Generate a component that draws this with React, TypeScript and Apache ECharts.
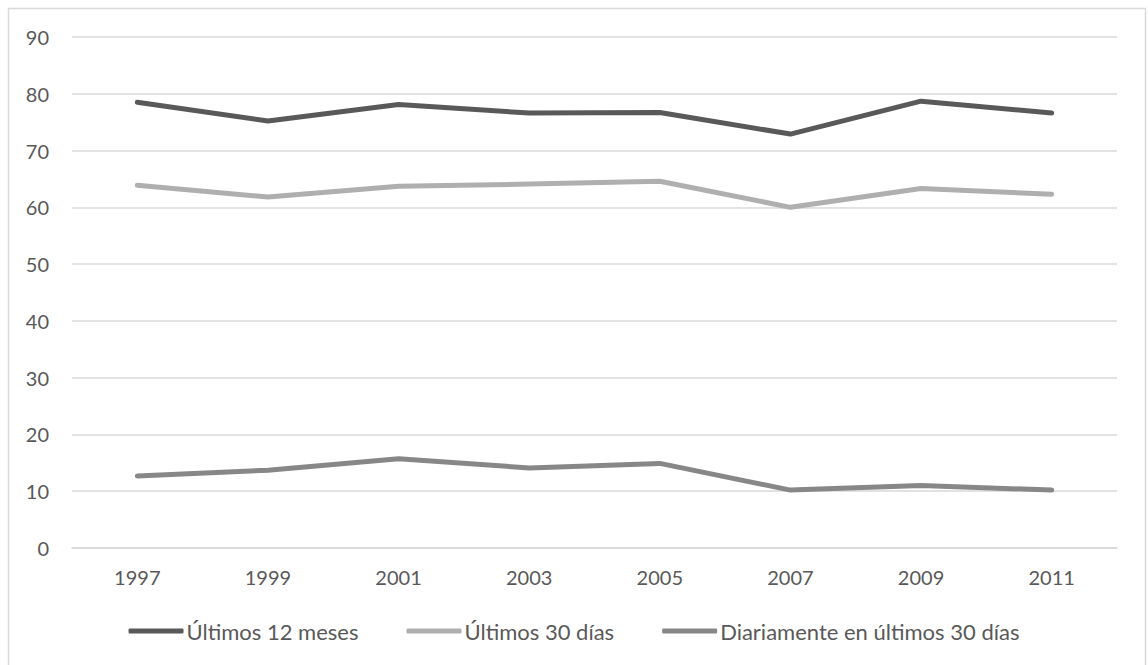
import React, { useEffect, useRef } from "react";
import * as echarts from "echarts";

const years = ["1997", "1999", "2001", "2003", "2005", "2007", "2009", "2011"];
const ultimos12Meses = [78.5, 75.2, 78.1, 76.6, 76.7, 72.9, 78.7, 76.6];
const ultimos30Dias = [63.9, 61.8, 63.7, 64.1, 64.6, 60.0, 63.3, 62.3];
const diariamente30Dias = [12.7, 13.7, 15.7, 14.1, 14.9, 10.2, 11.0, 10.2];

const seriesNames = ["Últimos 12 meses", "Últimos 30 días", "Diariamente en últimos 30 días"];
const seriesColors = ["#595959", "#afafaf", "#878787"];

const FONT = "Lato, 'Open Sans', sans-serif";

export default function App() {
  const ref = useRef<HTMLDivElement>(null);

  useEffect(() => {
    if (!ref.current) return;
    const chart = echarts.init(ref.current, undefined, { renderer: "svg" });
    const dataSets = [ultimos12Meses, ultimos30Dias, diariamente30Dias];
    chart.setOption({
      animation: false,
      backgroundColor: "#ffffff",
      grid: { left: 72, right: 31, top: 37, bottom: 117, containLabel: false },
      graphic: [
        {
          type: "rect",
          shape: { x: 8.5, y: 8.5, width: 1137, height: 700 },
          style: { fill: "none", stroke: "#d9d9d9", lineWidth: 1.5 },
          silent: true,
        },
      ],
      legend: {
        top: 615,
        left: "center",
        itemWidth: 55,
        itemHeight: 5,
        itemGap: 48,
        icon: "roundRect",
        textStyle: { color: "#595959", fontSize: 22, fontFamily: FONT, padding: [0, 0, 0, -2] },
        data: seriesNames,
      },
      xAxis: {
        type: "category",
        data: years,
        boundaryGap: true,
        axisLine: { show: true, lineStyle: { color: "#d9d9d9", width: 1.5 } },
        axisTick: { show: false },
        axisLabel: { color: "#595959", fontSize: 20, fontFamily: FONT, margin: 19 },
      },
      yAxis: {
        type: "value",
        min: 0,
        max: 90,
        interval: 10,
        axisLine: { show: false },
        axisTick: { show: false },
        splitLine: { lineStyle: { color: "#d9d9d9", width: 1.5 } },
        axisLabel: { color: "#595959", fontSize: 20, fontFamily: FONT, margin: 23 },
      },
      series: seriesNames.map((name, i) => ({
        name,
        type: "line",
        data: dataSets[i],
        symbol: "none",
        smooth: false,
        color: seriesColors[i],
        lineStyle: { width: 5, color: seriesColors[i], cap: "round", join: "round" },
      })),
    });
    return () => chart.dispose();
  }, []);

  return (
    <div
      ref={ref}
      style={{ position: "fixed", left: 0, top: 0, width: 1148, height: 665 }}
    />
  );
}
